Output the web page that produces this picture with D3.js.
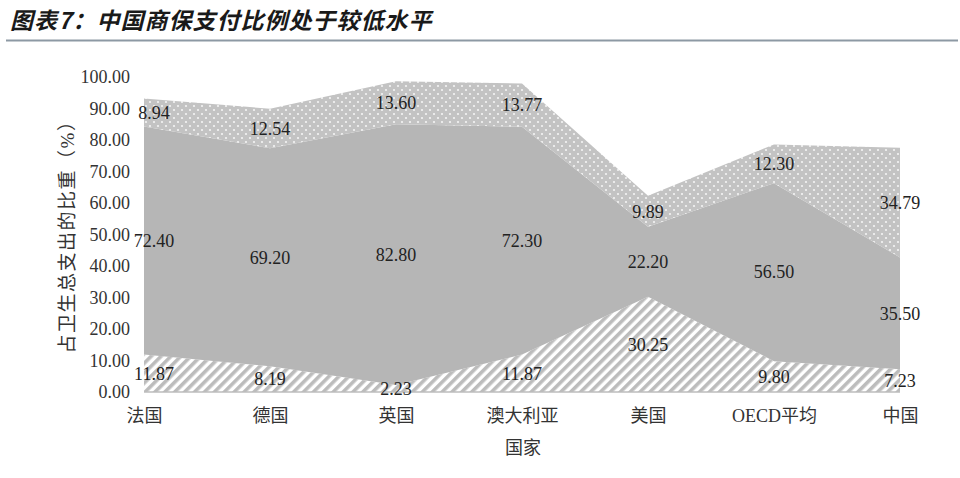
<!DOCTYPE html>
<html>
<head>
<meta charset="utf-8">
<script src="https://cdn.jsdelivr.net/npm/d3@7"></script>
<style>
  body { margin: 0; background: white; }
</style>
</head>
<body>
<div id="chart"></div>
<script>
const countries = ["法国", "德国", "英国", "澳大利亚", "美国", "OECD平均", "中国"];
const insuranceShare = [11.87, 8.19, 2.23, 11.87, 30.25, 9.80, 7.23];
const publicShare = [72.40, 69.20, 82.80, 72.30, 22.20, 56.50, 35.50];
const pocketShare = [8.94, 12.54, 13.60, 13.77, 9.89, 12.30, 34.79];
const yTicks = [0, 10, 20, 30, 40, 50, 60, 70, 80, 90, 100];

const width = 960, height = 478;
const serif = "'Liberation Serif', 'Times New Roman', 'Noto Sans CJK SC', serif";
const cjk = "'Liberation Serif', 'Noto Sans CJK SC', serif";

const svg = d3.select('#chart')
              .append('svg')
              .attr('width', width)
              .attr('height', height)
              .style('background', 'white');

// title + rule under it
svg.append('text')
   .attr('x', 10)
   .attr('y', 29)
   .style('font-family', "'Noto Sans CJK SC', sans-serif")
   .style('font-size', '23px')
   .style('font-weight', 'bold')
   .style('font-style', 'italic')
   .style('letter-spacing', '1px')
   .attr('fill', '#1a1a1a')
   .text('图表7：中国商保支付比例处于较低水平');

svg.append('line')
   .attr('x1', 6).attr('x2', 958)
   .attr('y1', 40.5).attr('y2', 40.5)
   .attr('stroke', '#8d99a4')
   .attr('stroke-width', 2);

// fill patterns
const defs = svg.append('defs');
const dots = defs.append('pattern')
   .attr('id', 'dots')
   .attr('patternUnits', 'userSpaceOnUse')
   .attr('width', 8).attr('height', 8);
dots.append('rect').attr('width', 8).attr('height', 8).attr('fill', '#c3c3c3');
dots.append('circle').attr('cx', 2).attr('cy', 2).attr('r', 1.1).attr('fill', '#f4f4f4');
dots.append('circle').attr('cx', 6).attr('cy', 6).attr('r', 1.1).attr('fill', '#f4f4f4');

const hatch = defs.append('pattern')
   .attr('id', 'hatch')
   .attr('patternUnits', 'userSpaceOnUse')
   .attr('width', 7).attr('height', 7)
   .attr('patternTransform', 'rotate(45)');
hatch.append('rect').attr('width', 7).attr('height', 7).attr('fill', 'white');
hatch.append('line').attr('x1', 1.8).attr('x2', 1.8).attr('y1', 0).attr('y2', 7)
     .attr('stroke', '#bcbcbc').attr('stroke-width', 3.6);

const x = d3.scalePoint()
            .domain(countries)
            .range([144, 900]);

const y = d3.scaleLinear()
            .domain([0, 100])
            .range([392, 77]);

const rows = countries.map((c, i) => ({
    country: c,
    insurance: insuranceShare[i],
    public: publicShare[i],
    pocket: pocketShare[i]
}));

const keys = ['insurance', 'public', 'pocket'];
const fills = {insurance: 'url(#hatch)', public: '#b6b6b6', pocket: 'url(#dots)'};

const series = d3.stack().keys(keys)(rows);

const area = d3.area()
               .x(d => x(d.data.country))
               .y0(d => y(d[0]))
               .y1(d => y(d[1]));

svg.selectAll('.layer')
   .data(series)
   .enter()
   .append('path')
   .attr('class', 'layer')
   .attr('d', area)
   .attr('fill', d => fills[d.key]);

// axes
svg.append('g')
   .attr('transform', `translate(0,${y(0)})`)
   .call(d3.axisBottom(x).tickSize(0).tickPadding(17))
   .call(g => g.select('.domain').attr('stroke', '#bdbdbd').attr('stroke-width', 1.5)
                .attr('d', `M${x(countries[0])},0H${x(countries[countries.length - 1])}`))
   .selectAll('text')
   .style('font-family', cjk)
   .style('font-size', '18px')
   .attr('fill', '#333');

svg.append('g')
   .attr('transform', `translate(144,0)`)
   .call(d3.axisLeft(y).tickValues(yTicks).tickFormat(d3.format('.2f')).tickSize(0).tickPadding(14))
   .call(g => g.select('.domain').remove())
   .selectAll('text')
   .style('font-family', serif)
   .style('font-size', '18px')
   .attr('fill', '#333');

// value labels, centred in each band
series.forEach(s => {
    svg.selectAll(`.lbl-${s.key}`)
       .data(s)
       .enter()
       .append('text')
       .attr('x', (d, i) => x(d.data.country) + (i === 0 ? 10 : 0))
       .attr('y', d => y((d[0] + d[1]) / 2))
       .attr('dy', '0.35em')
       .attr('text-anchor', 'middle')
       .style('font-family', serif)
       .style('font-size', '18px')
       .attr('fill', '#222')
       .text(d => d3.format('.2f')(d.data[s.key]));
});

// axis titles
svg.append('text')
   .attr('transform', 'translate(74,232) rotate(-90)')
   .attr('text-anchor', 'middle')
   .style('font-family', cjk)
   .style('font-size', '19px')
   .style('letter-spacing', '1.5px')
   .attr('fill', '#333')
   .text('占卫生总支出的比重（%）');

svg.append('text')
   .attr('x', 523)
   .attr('y', 454)
   .attr('text-anchor', 'middle')
   .style('font-family', cjk)
   .style('font-size', '18px')
   .attr('fill', '#333')
   .text('国家');
</script>
</body>
</html>
